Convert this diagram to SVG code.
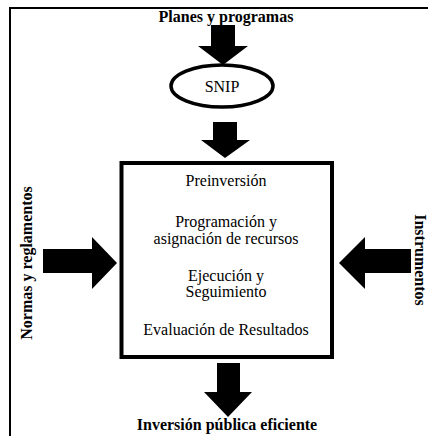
<svg xmlns="http://www.w3.org/2000/svg" width="428" height="436" viewBox="0 0 428 436">
<style>
text{font-family:"Liberation Serif","DejaVu Serif",serif;font-size:16px;fill:#000;text-anchor:middle}
.b{font-weight:bold}
.arr{fill:#000;stroke:none}
</style>
<rect width="428" height="436" fill="#fff"/>
<g id="frame"><path d="M10,436 V8 H428" fill="none" stroke="#000" stroke-width="2"/></g>
<g id="planes"><text class="b" x="226" y="22">Planes y programas</text></g>
<g id="snip">
<ellipse cx="222" cy="86" rx="51" ry="21" fill="#fff" stroke="#000" stroke-width="3.5"/>
<text x="222" y="92">SNIP</text>
</g>
<g id="proceso">
<rect x="121.5" y="163" width="210.5" height="194" fill="#fff" stroke="#000" stroke-width="4"/>
<text x="226" y="186">Preinversión</text>
<text x="226" y="227">Programación y</text>
<text x="226" y="244">asignación de recursos</text>
<text x="226" y="281">Ejecución y</text>
<text x="226" y="297">Seguimiento</text>
<text x="226" y="335">Evaluación de Resultados</text>
</g>
<g id="normas"><text class="b" transform="translate(32,263) rotate(-90)">Normas y reglamentos</text></g>
<g id="instrumentos"><text class="b" transform="translate(415,260) rotate(90)">Instrumentos</text></g>
<g id="inversion"><text class="b" x="227" y="430">Inversión pública eficiente</text></g>
<g id="connectors">
<polygon class="arr" points="211,25 235,25 235,46 248,46 223,65 198,46 211,46"/>
<polygon class="arr" points="213,122 237,122 237,140 250,140 225,158 201,140 213,140"/>
<polygon class="arr" points="217,363 240,363 240,392 252,392 228,417 204,392 217,392"/>
<polygon class="arr" points="43,249 92,249 92,237 117,263 92,289 92,273 43,273"/>
<polygon class="arr" points="411,249 365,249 365,237 339,263 365,289 365,273 411,273"/>
</g>
</svg>
